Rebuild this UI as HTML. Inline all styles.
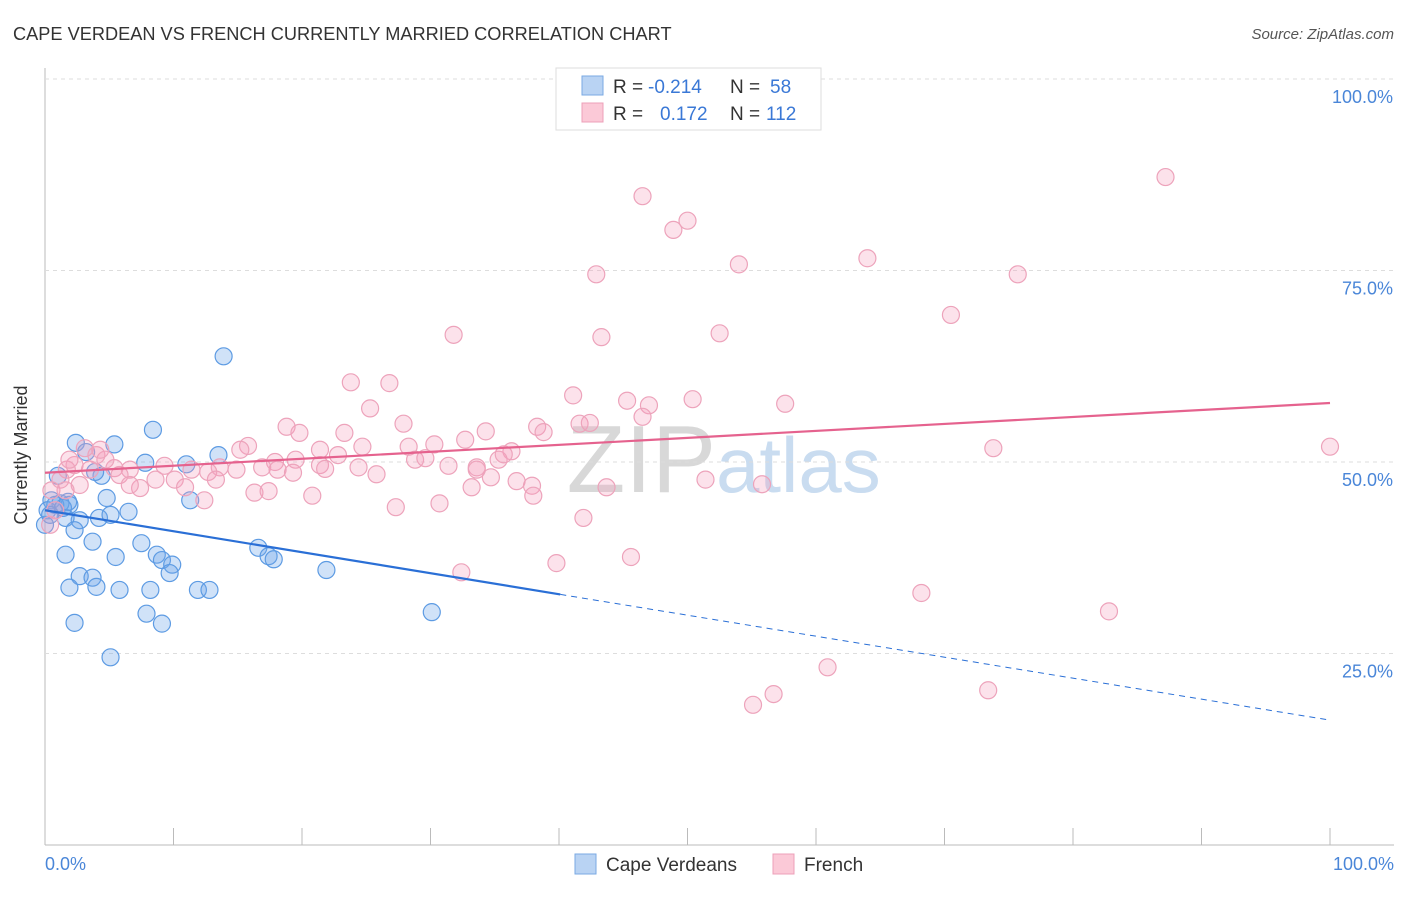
<!DOCTYPE html>
<html><head><meta charset="utf-8"><style>
body{margin:0;background:#fff;font-family:"Liberation Sans",sans-serif;}
svg text{font-family:"Liberation Sans",sans-serif;}
</style></head><body>
<svg id="c" width="1406" height="892" xmlns="http://www.w3.org/2000/svg">
<text x="13" y="40" font-size="18.2" fill="#333">CAPE VERDEAN VS FRENCH CURRENTLY MARRIED CORRELATION CHART</text>
<text x="1394" y="39" font-size="15" fill="#555" text-anchor="end" font-style="italic">Source: ZipAtlas.com</text>
<text x="716" y="492" font-size="96" fill="#d8d8d8" text-anchor="end" font-family="Liberation Serif">ZIP</text>
<text x="716" y="492" font-size="78" fill="#c9dcf0">atlas</text>
<g id="grid"></g><g id="ticks"></g>
<g id="blue"></g><g id="pink"></g><g id="lines"></g>
<text x="27" y="455" font-size="18" fill="#333" text-anchor="middle" transform="rotate(-90 27 455)">Currently Married</text>
<text x="45" y="870" font-size="18" fill="#4a86d8">0.0%</text>
<text x="1394" y="870" font-size="18" fill="#4a86d8" text-anchor="end">100.0%</text>
<g>
<rect x="556" y="68" width="265" height="62" fill="#fff" stroke="#ddd"/>
<rect x="582" y="76" width="21" height="19" fill="#b9d3f3" stroke="#7aa9e3"/>
<rect x="582" y="103" width="21" height="19" fill="#fbc9d7" stroke="#eda0b8"/>
<text x="613" y="93" font-size="19" fill="#333">R =</text>
<text x="648" y="93" font-size="19" fill="#3a78d6">-0.214</text>
<text x="730" y="93" font-size="19" fill="#333">N =</text>
<text x="770" y="93" font-size="19" fill="#3a78d6">58</text>
<text x="613" y="120" font-size="19" fill="#333">R =</text>
<text x="660" y="120" font-size="19" fill="#3a78d6">0.172</text>
<text x="730" y="120" font-size="19" fill="#333">N =</text>
<text x="766" y="120" font-size="19" fill="#3a78d6">112</text>
</g>
<g>
<rect x="575" y="854" width="21" height="20" fill="#b9d3f3" stroke="#7aa9e3"/>
<text x="606" y="871" font-size="19" fill="#333">Cape Verdeans</text>
<rect x="773" y="854" width="21" height="20" fill="#fbc9d7" stroke="#eda0b8"/>
<text x="804" y="871" font-size="19" fill="#333">French</text>
</g>
</svg>
<script>
const yTicks=[25,50,75,100];
const xTicks=[0,10,20,30,40,50,60,70,80,90,100];
const blueX=[2.4,5.4,8.4,13.9,13.5,7.8,11.0,3.2,4.4,3.9,1.0,0.5,1.2,1.9,4.8,2.7,4.2,5.1,6.5,1.6,2.3,3.7,5.5,7.5,8.7,9.1,9.9,9.7,1.6,2.7,3.7,4.0,1.9,5.8,8.2,11.9,12.8,7.9,9.1,2.3,5.1,16.6,17.4,17.8,21.9,30.1,11.3,0.2,0.8,1.4,1.8,0,0.4];
const blueY=[52.5,52.3,54.2,63.8,50.9,49.9,49.7,51.3,48.2,48.7,48.2,45.0,44.6,44.4,45.3,42.4,42.7,43.1,43.5,42.7,41.1,39.6,37.6,39.4,37.9,37.2,36.6,35.5,37.9,35.1,34.9,33.7,33.6,33.3,33.3,33.3,33.3,30.2,28.9,29.0,24.5,38.8,37.7,37.3,35.9,30.4,45.0,43.7,44.4,44.0,44.8,41.8,43.1];
const pinkX=[46.5,50.0,48.9,87.2,42.9,54.0,64.0,75.7,31.8,43.3,52.5,70.5,23.8,26.8,41.1,45.3,47.0,50.4,57.6,25.3,46.5,27.9,41.6,18.8,23.3,32.7,34.3,38.3,38.8,42.4,15.8,19.8,21.4,22.8,28.3,30.3,24.7,36.3,73.8,100,17.9,19.5,21.4,24.4,25.8,28.8,29.6,31.4,33.6,35.3,35.7,15.2,13.6,14.9,16.9,18.1,19.3,21.8,11.4,9.3,6.6,5.4,8.6,10.1,12.7,13.3,10.9,7.4,12.4,16.3,17.4,20.8,27.3,30.7,34.7,36.7,37.9,33.2,33.6,43.7,51.4,55.8,38.0,41.9,39.8,45.6,32.4,68.2,82.8,60.9,73.4,56.7,55.1,3.1,4.0,4.7,2.3,1.7,1.2,0.5,3.5,5.8,6.6,2.7,1.6,0.8,0.4,1.9,4.3];
const pinkY=[84.7,81.5,80.3,87.2,74.5,75.8,76.6,74.5,66.6,66.3,66.8,69.2,60.4,60.3,58.7,58.0,57.4,58.2,57.6,57.0,55.9,55.0,55.0,54.6,53.8,52.9,54.0,54.6,53.9,55.1,52.1,53.8,51.6,50.9,52.0,52.3,52.0,51.4,51.8,52.0,50.0,50.3,49.6,49.3,48.4,50.3,50.5,49.5,49.3,50.3,51.0,51.6,49.3,49.0,49.3,49.0,48.6,49.1,49.0,49.5,49.0,49.2,47.7,47.7,48.7,47.7,46.7,46.6,45.0,46.0,46.2,45.6,44.1,44.6,48.0,47.5,46.9,46.7,49.0,46.7,47.7,47.1,45.6,42.7,36.8,37.6,35.6,32.9,30.5,23.2,20.2,19.7,18.3,51.8,50.9,50.3,49.6,49.0,47.7,46.3,49.0,48.3,47.0,47.0,46.3,43.7,41.8,50.3,51.6];
const blueTrend=[43.7,16.3]; // y at x=0 and x=100
const blueSolidEnd=40.1;
const pinkTrend=[48.6,57.7];
const X=v=>45+v*12.85, Y=v=>845-v*7.66;
const NS="http://www.w3.org/2000/svg";
function mk(tag,attrs,parent){const e=document.createElementNS(NS,tag);for(const k in attrs)e.setAttribute(k,attrs[k]);document.getElementById(parent).appendChild(e);return e;}
let e=mk('line',{x1:45,x2:45,y1:68,y2:845,stroke:'#bbb'},'grid');


e=mk('line',{x1:45,x2:1394,y1:845,y2:845,stroke:'#bbb'},'grid');


yTicks.forEach(t=>{
 const l=mk('line',{x1:45,x2:1394,y1:Y(t),y2:Y(t),stroke:'#ddd','stroke-dasharray':'4,4'},'grid');
 
 
 const tx=mk('text',{x:1393,y:Y(t)+24,'font-size':18,fill:'#4a86d8','text-anchor':'end'},'grid');
 tx.textContent=t.toFixed(1)+'%';
 
 
});
xTicks.forEach(t=>{
 const l=mk('line',{x1:X(t),x2:X(t),y1:828,y2:845,stroke:'#bbb'},'ticks');
 
 
});
blueX.forEach((v,i)=>{
 const c=mk('circle',{cx:X(v),cy:Y(blueY[i]),r:8.5,fill:'rgba(110,165,232,0.32)',stroke:'#5d9be3','stroke-width':1.2},'blue');
 
 
});
pinkX.forEach((v,i)=>{
 const c=mk('circle',{cx:X(v),cy:Y(pinkY[i]),r:8.5,fill:'rgba(244,160,188,0.3)',stroke:'#eda3bb','stroke-width':1.2},'pink');
 
 
});
const by=x=>blueTrend[0]+(blueTrend[1]-blueTrend[0])*x/100;
e=mk('line',{x1:X(0),y1:Y(by(0)),x2:X(blueSolidEnd),y2:Y(by(blueSolidEnd)),stroke:'#2a6fd6','stroke-width':2.2},'lines');


e=mk('line',{x1:X(blueSolidEnd),y1:Y(by(blueSolidEnd)),x2:X(100),y2:Y(by(100)),stroke:'#2a6fd6','stroke-width':1,'stroke-dasharray':'6,5'},'lines');


e=mk('line',{x1:X(0),y1:Y(pinkTrend[0]),x2:X(100),y2:Y(pinkTrend[1]),stroke:'#e5628e','stroke-width':2.2},'lines');


</script>
</body></html>
